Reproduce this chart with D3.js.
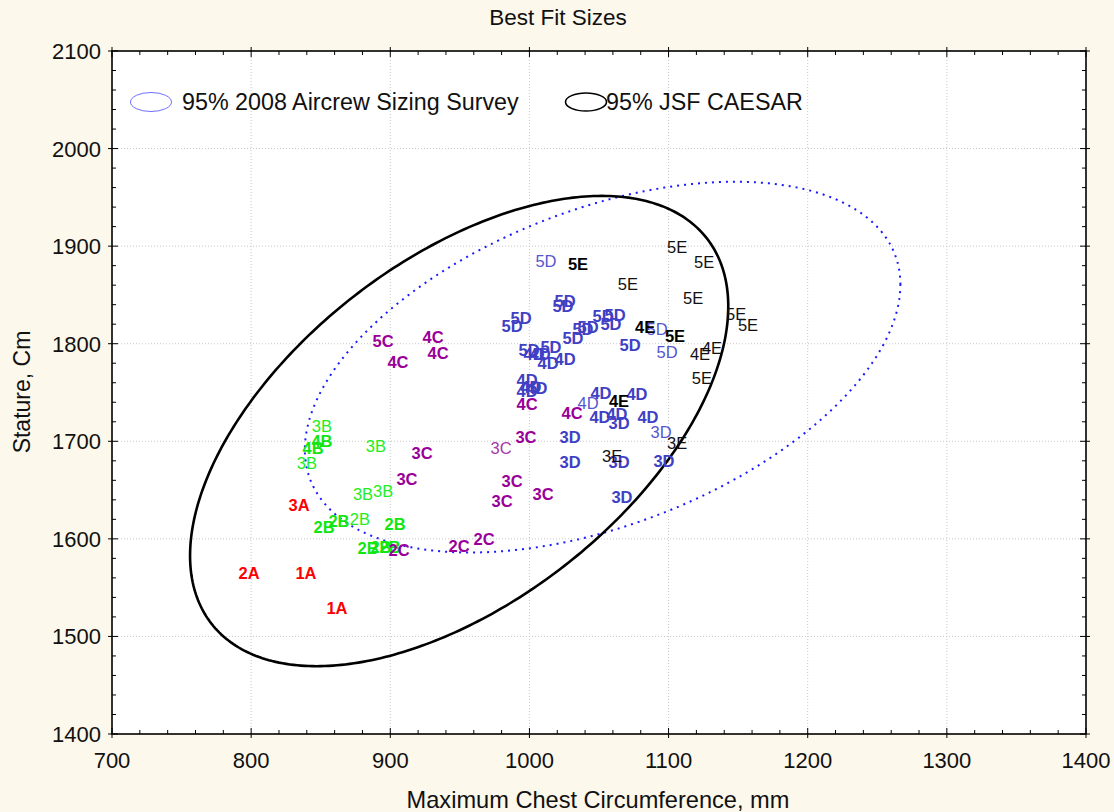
<!DOCTYPE html>
<html>
<head>
<meta charset="utf-8">
<script src="https://cdn.jsdelivr.net/npm/d3@7"></script>
<style>
  html, body { margin: 0; padding: 0; background: #fcf8ec; }
  svg { display: block; font-family: "Liberation Sans", Arial, sans-serif; }
</style>
</head>
<body>
<svg id="chart" width="1114" height="812"></svg>
<script>
// Size codes (label), chest circumference (mm), stature (cm), heavy/light print
const sizeLabels = [
  "2A","1A","1A","3A",
  "3B","4B","4B","3B","3B","3B","3B","2B","2B","2B","2B","2B","2B","2B",
  "5C","4C","4C","4C","3C","3C","3C","3C","3C","3C","3C","2C","2C","2C","4C","4C",
  "5D","5D","5D","5D","5D","5D","5D","5D","5D","5D","5D","5D","5D","5D","5D","5D",
  "4D","4D","4D","4D","4D","4D","4D","4D","4D","4D","4D","4D","4D","4D",
  "3D","3D","3D","3D","3D","3D","3D",
  "5E","5E","5E","5E","5E","5E","5E","4E","5E","4E","4E","5E","4E","3E","3E"
];
const chestMm = [
  798.5, 839.4, 861.7, 834.4,
  850.9, 850.9, 844.5, 840.1, 889.7, 880.4, 894.8, 852.4, 863.1, 878.2, 903.4, 884.0, 893.3, 899.8,
  894.8, 930.7, 934.3, 905.5, 922.8, 912.0, 979.6, 997.5, 987.5, 980.3, 1009.8, 906.3, 949.4, 967.4, 998.3, 1030.6,
  1011.9, 1025.6, 1024.1, 994.0, 987.5, 1052.9, 1061.5, 1058.6, 1042.1, 1038.5, 1031.3, 1091.7, 1072.3, 1098.9, 999.7, 1015.5,
  1003.3, 1007.6, 1013.4, 1025.6, 998.3, 1005.4, 998.3, 1001.1, 1051.4, 1042.1, 1077.3, 1050.7, 1062.9, 1085.2,
  1064.4, 1094.6, 1029.2, 1029.2, 1064.4, 1096.7, 1066.5,
  1106.1, 1125.5, 1034.9, 1070.8, 1117.6, 1148.5, 1157.1, 1083.1, 1104.6, 1122.6, 1131.2, 1124.0, 1064.4, 1106.1, 1059.4
];
const statureCm = [
  1565, 1565, 1529, 1635,
  1716, 1700, 1693, 1678, 1695, 1646, 1649, 1612, 1618, 1620, 1615, 1591, 1592, 1592,
  1803, 1807, 1790, 1781, 1688, 1661, 1693, 1704, 1659, 1639, 1646, 1589, 1593, 1600, 1738, 1729,
  1885, 1844, 1839, 1826, 1818, 1828, 1829, 1820, 1817, 1815, 1806, 1815, 1799, 1792, 1794, 1797,
  1789, 1789, 1780, 1784, 1763, 1755, 1752, 1756, 1750, 1739, 1748, 1725, 1728, 1725,
  1719, 1710, 1704, 1679, 1679, 1680, 1643,
  1899, 1884, 1882, 1861, 1847, 1830, 1819, 1817, 1808, 1789, 1796, 1765, 1741, 1698, 1685
];
// 1 = heavy print, 0 = light print
const heavyPrint = [
  1,1,1,1,
  0,1,1,0,0,0,0,1,1,0,1,1,1,1,
  1,1,1,1,1,1,0,1,1,1,1,1,1,1,1,1,
  0,1,1,1,1,1,1,1,1,1,1,0,1,0,1,1,
  1,1,1,1,1,1,1,1,1,0,1,1,1,1,
  1,0,1,1,1,1,1,
  0,0,1,0,0,0,0,1,1,0,0,0,1,0,0
];

// 95% confidence ellipses: centre, half-extent along each axis and correlation
const ellipseNames = ["95% 2008 Aircrew Sizing Survey", "95% JSF CAESAR"];
const ellipseCx = [1052.6, 949.5];
const ellipseCy = [1776, 1710.5];
const ellipseRx = [214, 193.4];
const ellipseRy = [190, 241];
const ellipseRho = [0.445, 0.53];

const xTicks = [700, 800, 900, 1000, 1100, 1200, 1300, 1400];
const yTicks = [1400, 1500, 1600, 1700, 1800, 1900, 2000, 2100];

const svg = d3.select("#chart");
const L = 112, R = 1086, T = 51, B = 734;

const x = d3.scaleLinear().domain([700, 1400]).range([L, R]);
const y = d3.scaleLinear().domain([1400, 2100]).range([B, T]);

svg.append("rect").attr("width", 1114).attr("height", 812).attr("fill", "#fcf8ec");
svg.append("rect").attr("x", L).attr("y", T).attr("width", R - L).attr("height", B - T).attr("fill", "#ffffff");

// dotted grid
const grid = svg.append("g").attr("stroke", "#c8c8c8").attr("stroke-width", 1).attr("stroke-dasharray", "1,2");
grid.selectAll("line.gx").data(xTicks.slice(1, -1)).join("line")
  .attr("x1", d => x(d)).attr("x2", d => x(d)).attr("y1", T).attr("y2", B);
grid.selectAll("line.gy").data(yTicks.slice(1, -1)).join("line")
  .attr("y1", d => y(d)).attr("y2", d => y(d)).attr("x1", L).attr("x2", R);

// minor and major ticks on all four sides
const minorX = d3.range(700, 1401, 20);
const minorY = d3.range(1400, 2101, 20);
const tk = svg.append("g").attr("stroke", "#000").attr("stroke-width", 1);
minorX.forEach(v => {
  const major = v % 100 === 0;
  const inn = major ? 6 : 4, out = major ? 4 : 0;
  tk.append("line").attr("x1", x(v)).attr("x2", x(v)).attr("y1", B + out).attr("y2", B - inn);
  tk.append("line").attr("x1", x(v)).attr("x2", x(v)).attr("y1", T - out).attr("y2", T + inn);
});
minorY.forEach(v => {
  const major = v % 100 === 0;
  const inn = major ? 6 : 4, out = major ? 4 : 0;
  tk.append("line").attr("y1", y(v)).attr("y2", y(v)).attr("x1", L - out).attr("x2", L + inn);
  tk.append("line").attr("y1", y(v)).attr("y2", y(v)).attr("x1", R + out).attr("x2", R - inn);
});

// frame
svg.append("rect").attr("x", L).attr("y", T).attr("width", R - L).attr("height", B - T)
  .attr("fill", "none").attr("stroke", "#000").attr("stroke-width", 1.6);

// tick labels
svg.append("g").selectAll("text").data(xTicks).join("text")
  .attr("x", d => x(d)).attr("y", 768).attr("text-anchor", "middle")
  .attr("font-size", 22).attr("fill", "#111").text(d => d);
svg.append("g").selectAll("text").data(yTicks).join("text")
  .attr("x", 101).attr("y", d => y(d) + 8).attr("text-anchor", "end")
  .attr("font-size", 22).attr("fill", "#111").text(d => d);

// titles
svg.append("text").attr("x", 558).attr("y", 25).attr("text-anchor", "middle")
  .attr("font-size", 22.5).attr("fill", "#111").text("Best Fit Sizes");
svg.append("text").attr("x", 598).attr("y", 808).attr("text-anchor", "middle")
  .attr("font-size", 23.6).attr("fill", "#111").text("Maximum Chest Circumference, mm");
svg.append("text").attr("transform", "translate(30,392) rotate(-90)").attr("text-anchor", "middle")
  .attr("font-size", 23).attr("fill", "#111").text("Stature, Cm");

// ellipses
const clip = svg.append("clipPath").attr("id", "plotClip");
clip.append("rect").attr("x", L).attr("y", T).attr("width", R - L).attr("height", B - T);

function ellipsePoints(i) {
  const k = Math.sqrt(1 - ellipseRho[i] * ellipseRho[i]);
  return d3.range(0, 361, 1).map(a => {
    const t = a * Math.PI / 180;
    return [ellipseCx[i] + ellipseRx[i] * Math.cos(t),
            ellipseCy[i] + ellipseRy[i] * (ellipseRho[i] * Math.cos(t) + k * Math.sin(t))];
  });
}
const line = d3.line().x(d => x(d[0])).y(d => y(d[1])).curve(d3.curveLinearClosed);
const eg = svg.append("g").attr("clip-path", "url(#plotClip)");
eg.append("path").attr("d", line(ellipsePoints(0))).attr("fill", "none")
  .attr("stroke", "#1a1aff").attr("stroke-width", 2).attr("stroke-dasharray", "2,5");
eg.append("path").attr("d", line(ellipsePoints(1))).attr("fill", "none")
  .attr("stroke", "#000").attr("stroke-width", 2.6);

// labels
const palette = {
  A: ["#ff0000", "#ff2020"],
  B: ["#11e611", "#22ee22"],
  C: ["#990099", "#a838a8"],
  D: ["#4040c4", "#5656d0"],
  E: ["#000000", "#111111"]
};
const pts = sizeLabels.map((s, i) => ({ s, cx: chestMm[i], st: statureCm[i], h: heavyPrint[i] }));
svg.append("g").attr("clip-path", "url(#plotClip)")
  .selectAll("text").data(pts).join("text")
  .attr("x", d => x(d.cx)).attr("y", d => y(d.st) + 6)
  .attr("text-anchor", "middle").attr("font-size", 16.5)
  .attr("font-weight", d => d.h ? "bold" : "normal")
  .attr("fill", d => palette[d.s[1]][d.h ? 0 : 1])
  .text(d => d.s);

// legend
const lg = svg.append("g");
lg.append("ellipse").attr("cx", 151).attr("cy", 102).attr("rx", 20.5).attr("ry", 9.5)
  .attr("fill", "none").attr("stroke", "#7070ff").attr("stroke-width", 1);
lg.append("text").attr("x", 182).attr("y", 110).attr("font-size", 23.3).attr("fill", "#111").text(ellipseNames[0]);
lg.append("ellipse").attr("cx", 586).attr("cy", 102).attr("rx", 20.5).attr("ry", 9)
  .attr("fill", "none").attr("stroke", "#000").attr("stroke-width", 1.6);
lg.append("text").attr("x", 606).attr("y", 110).attr("font-size", 23.3).attr("fill", "#111").text(ellipseNames[1]);
</script>
</body>
</html>
